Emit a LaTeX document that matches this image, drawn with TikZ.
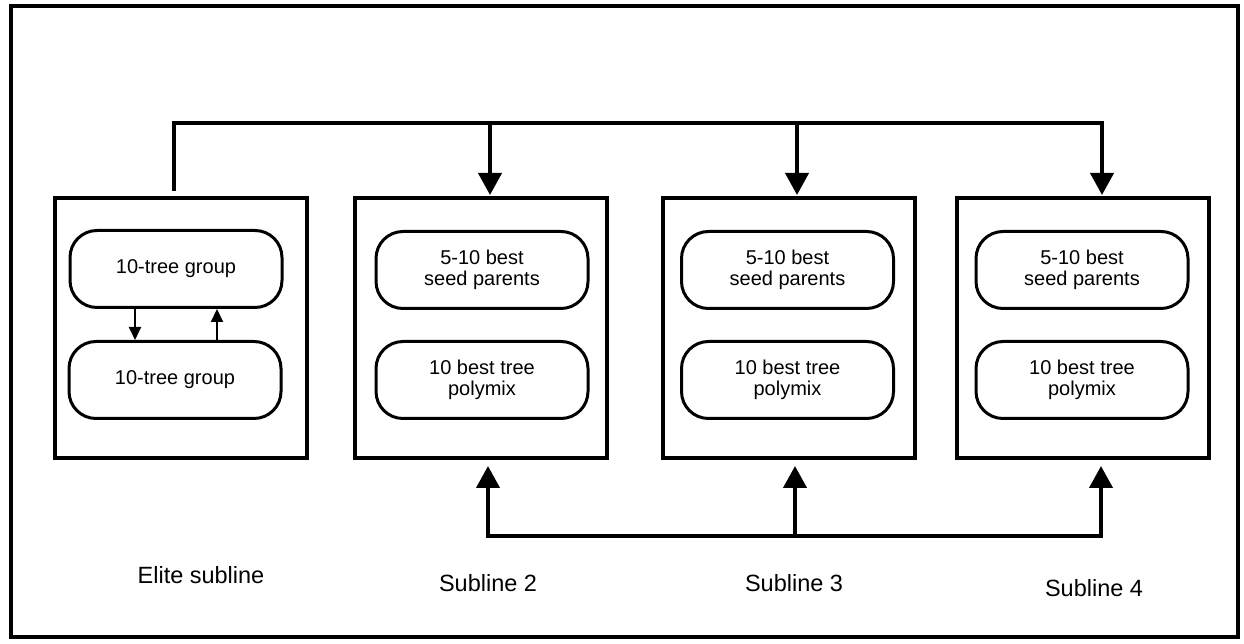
\documentclass[tikz,border=0pt]{standalone}
\usepackage{fontspec}
\setmainfont{Liberation Sans}
\usetikzlibrary{arrows.meta}

\tikzset{
  frameline/.style={draw=black, line width=4pt},
  subbox/.style={draw=black, line width=4pt, minimum width=252pt, minimum height=260pt, inner sep=0pt},
  pill/.style={draw=black, line width=3pt, rounded corners=27pt, minimum width=212pt, minimum height=77pt,
    inner sep=0pt, align=center, font=\fontsize{20}{21.5}\selectfont},
  bus/.style={draw=black, line width=4pt, line join=miter},
  bigtip/.style={-{Triangle[width=23pt,length=22pt]}},
  bothtips/.style={{Triangle[width=23pt,length=22pt]}-{Triangle[width=23pt,length=22pt]}},
  smallarrow/.style={draw=black, line width=2pt, -{Triangle[width=12pt,length=13pt]}},
  caption/.style={font=\fontsize{23.5}{26}\selectfont, inner sep=0pt}
}

\begin{document}
\begin{tikzpicture}[x=1pt, y=1pt]
  \useasboundingbox (0,0) rectangle (1244,644);
  \fill[white] (0,0) rectangle (1244,644);

  % outer frame
  \draw[frameline] (11,7) rectangle (1238,638);

  % subline boxes
  \node[subbox] (elite) at (181,316) {};
  \node[subbox] (s2) at (481,316) {};
  \node[subbox] (s3) at (789,316) {};
  \node[subbox] (s4) at (1082.5,316) {};

  % elite subline contents
  \node[pill] (eg1) at (176,375) {10-tree group};
  \node[pill] (eg2) at (175,264) {10-tree group};
  \draw[smallarrow] (eg1.south -| 135,0) -- (eg2.north -| 135,0);
  \draw[smallarrow] (eg2.north -| 217,0) -- (eg1.south -| 217,0);

  % subline contents
  \node[pill] (p2) at (482,374) {5-10 best\\seed parents};
  \node[pill] (m2) at (482,264) {10 best tree\\polymix};
  \node[pill] (p3) at (787.5,374) {5-10 best\\seed parents};
  \node[pill] (m3) at (787.5,264) {10 best tree\\polymix};
  \node[pill] (p4) at (1082,374) {5-10 best\\seed parents};
  \node[pill] (m4) at (1082,264) {10 best tree\\polymix};

  % top distribution line from the elite subline
  \coordinate (t2) at (490,521);
  \coordinate (t3) at (797,521);
  \coordinate (t4) at (1102,521);
  \draw[bus, bigtip, shorten <=5pt, shorten >=1pt] ([xshift=-7pt]elite.north) |- (t4) -- (t4 |- s4.north);
  \draw[bus, bigtip, shorten >=1pt] (t2) -- (t2 |- s2.north);
  \draw[bus, bigtip, shorten >=1pt] (t3) -- (t3 |- s3.north);

  % bottom exchange line between sublines 2-4
  \coordinate (b2) at (488,108);
  \coordinate (b3) at (795,108);
  \coordinate (b4) at (1101,108);
  \draw[bus, bothtips, shorten <=6pt, shorten >=6pt] (b2 |- s2.south) -- (b2) -- (b4) -- (b4 |- s4.south);
  \draw[bus, bigtip, shorten >=6pt] (b3) -- (b3 |- s3.south);

  % captions
  \node[caption] (cap1) at (201,69) {Elite subline};
  \node[caption] (cap2) at (488,61) {Subline 2};
  \node[caption] (cap3) at (794,61) {Subline 3};
  \node[caption] (cap4) at (1094,56) {Subline 4};
\end{tikzpicture}
\end{document}
